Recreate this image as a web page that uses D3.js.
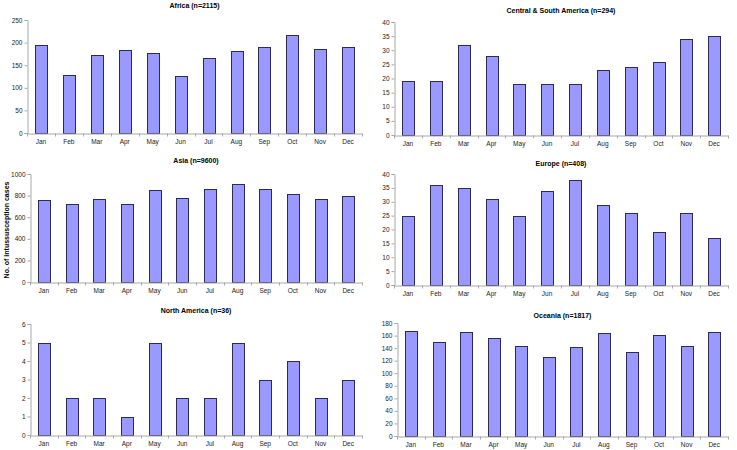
<!DOCTYPE html>
<html><head><meta charset="utf-8">
<script src="https://cdn.jsdelivr.net/npm/d3@7"></script>
<style>body{margin:0;background:#fff}svg{display:block}text{font-family:"Liberation Sans",Arial,sans-serif}</style>
</head><body><svg id="c" width="737" height="450"></svg>
<script>
const months = ["Jan","Feb","Mar","Apr","May","Jun","Jul","Aug","Sep","Oct","Nov","Dec"];
const titles = ["Africa (n=2115)","Central & South America (n=294)","Asia (n=9600)","Europe (n=408)","North America (n=36)","Oceania (n=1817)"];
const africa = [195,128,172,183,178,127,165,182,191,217,186,190];
const csAmerica = [19,19,32,28,18,18,18,23,24,26,34,35];
const asia = [762,725,768,725,855,775,860,905,860,818,770,792];
const europe = [25,36,35,31,25,34,38,29,26,19,26,17];
const northAmerica = [5,2,2,1,5,2,2,5,3,4,2,3];
const oceania = [168,149,166,156,144,126,141,164,134,161,143,165];
const yMax = [250,40,1000,40,6,180];
const yStep = [50,5,200,5,1,20];
const yLabel = "No. of intussusception cases";

const series = [africa, csAmerica, asia, europe, northAmerica, oceania];
// layout: [x0, x1, yTop, yBottom, titleY]
const layout = [
  [27,362,20,133,8],
  [394,728,22,135,13],
  [30,362,174,282,163],
  [394,728,174,285,166],
  [30,362,324,435,313],
  [397,728,323,436,318]
];
const svg = d3.select("#c");
series.forEach((vals,i)=>{
  const [x0,x1,yT,yB,tY] = layout[i];
  const x = d3.scaleBand().domain(months).range([x0,x1]).paddingInner(0.58).paddingOuter(0.29);
  const y = d3.scaleLinear().domain([0,yMax[i]]).range([yB,yT]);
  const g = svg.append("g");
  g.append("text").attr("x",(x0+x1)/2).attr("y",tY).attr("text-anchor","middle")
    .attr("font-size",7).attr("font-weight","bold").attr("fill","#000").text(titles[i]);
  // bars
  g.selectAll("rect.bar").data(vals).join("rect").attr("class","bar")
    .attr("x",(d,j)=>Math.round(x(months[j]))+0.5).attr("width",Math.round(x.bandwidth()))
    .attr("y",d=>Math.round(y(d))+0.5).attr("height",d=>yB-Math.round(y(d)))
    .attr("fill","#9999ff").attr("stroke","#2b2b55").attr("stroke-width",1);
  // y axis
  const ticks = d3.range(0,yMax[i]+yStep[i]/2,yStep[i]);
  const ya = g.append("g").attr("transform",`translate(${x0+0.5},0)`)
    .call(d3.axisLeft(y).tickValues(ticks).tickSize(3).tickPadding(2).tickFormat(d3.format("d")));
  ya.select(".domain").attr("stroke","#a8a8a8");
  ya.selectAll(".tick line").attr("stroke","#a8a8a8");
  ya.selectAll("text").attr("font-size",6.5).attr("fill","#222").attr("font-family","Liberation Sans, Arial, sans-serif");
  // x axis
  const xa = g.append("g").attr("transform",`translate(0,${yB+0.5})`)
    .call(d3.axisBottom(x).tickSize(0).tickPadding(6));
  xa.select(".domain").attr("stroke","#a8a8a8");
  xa.selectAll("text").attr("font-size",6.5).attr("fill","#222").attr("font-family","Liberation Sans, Arial, sans-serif");
  const step = x.step();
  const bounds = d3.range(0,months.length+1).map(k=>x0 + k*step);
  xa.selectAll("line.sep").data(bounds).join("line").attr("class","sep")
    .attr("x1",d=>Math.round(d)+0.5).attr("x2",d=>Math.round(d)+0.5).attr("y1",0).attr("y2",3)
    .attr("stroke","#a8a8a8");
});
svg.append("text").attr("transform","translate(9,230) rotate(-90)").attr("text-anchor","middle")
  .attr("font-size",7).attr("font-weight","bold").attr("fill","#000").text(yLabel);
</script></body></html>
